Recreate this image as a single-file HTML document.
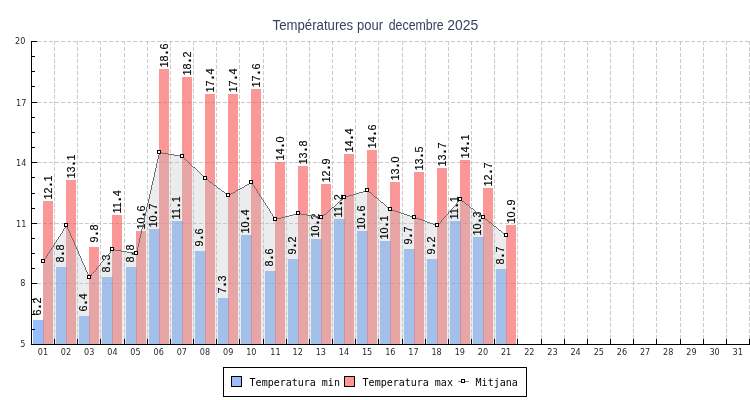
<!DOCTYPE html>
<html lang="fr"><head><meta charset="utf-8"><title>Températures pour decembre 2025</title>
<style>html,body{margin:0;padding:0;background:#fff}body{width:750px;height:400px;overflow:hidden}svg{display:block}.t{font-family:"Liberation Sans",sans-serif;font-size:14px;fill:#363f5f}.a{font-family:"DejaVu Sans Condensed","DejaVu Sans","Liberation Sans",sans-serif;font-size:9px;fill:#2a2a2a}.v{font-family:"Liberation Sans",sans-serif;font-size:11.4px;fill:#000;stroke:#000;stroke-width:0.12px}.l{font-family:"DejaVu Sans Mono","Liberation Mono",monospace;font-size:10px;fill:#000}</style></head><body>
<svg width="750" height="400" viewBox="0 0 750 400">
<rect width="750" height="400" fill="#fff"/>
<text class="t" y="30"><tspan x="272.6" textLength="80.6" lengthAdjust="spacingAndGlyphs">Températures</tspan> <tspan x="357" textLength="26" lengthAdjust="spacingAndGlyphs">pour</tspan> <tspan x="388.7" textLength="55" lengthAdjust="spacingAndGlyphs">decembre</tspan> <tspan x="447.2" textLength="31" lengthAdjust="spacingAndGlyphs">2025</tspan></text>
<g shape-rendering="crispEdges" stroke="#cacaca" stroke-width="1" stroke-dasharray="4 2" fill="none">
<line x1="31" y1="41.5" x2="750" y2="41.5"/>
<line x1="31" y1="102.5" x2="750" y2="102.5"/>
<line x1="31" y1="162.5" x2="750" y2="162.5"/>
<line x1="31" y1="223.5" x2="750" y2="223.5"/>
<line x1="31" y1="283.5" x2="750" y2="283.5"/>
<line x1="54.5" y1="41" x2="54.5" y2="344"/>
<line x1="77.5" y1="41" x2="77.5" y2="344"/>
<line x1="100.5" y1="41" x2="100.5" y2="344"/>
<line x1="124.5" y1="41" x2="124.5" y2="344"/>
<line x1="147.5" y1="41" x2="147.5" y2="344"/>
<line x1="170.5" y1="41" x2="170.5" y2="344"/>
<line x1="193.5" y1="41" x2="193.5" y2="344"/>
<line x1="216.5" y1="41" x2="216.5" y2="344"/>
<line x1="239.5" y1="41" x2="239.5" y2="344"/>
<line x1="263.5" y1="41" x2="263.5" y2="344"/>
<line x1="286.5" y1="41" x2="286.5" y2="344"/>
<line x1="309.5" y1="41" x2="309.5" y2="344"/>
<line x1="332.5" y1="41" x2="332.5" y2="344"/>
<line x1="355.5" y1="41" x2="355.5" y2="344"/>
<line x1="378.5" y1="41" x2="378.5" y2="344"/>
<line x1="402.5" y1="41" x2="402.5" y2="344"/>
<line x1="425.5" y1="41" x2="425.5" y2="344"/>
<line x1="448.5" y1="41" x2="448.5" y2="344"/>
<line x1="471.5" y1="41" x2="471.5" y2="344"/>
<line x1="494.5" y1="41" x2="494.5" y2="344"/>
<line x1="517.5" y1="41" x2="517.5" y2="344"/>
<line x1="541.5" y1="41" x2="541.5" y2="344"/>
<line x1="564.5" y1="41" x2="564.5" y2="344"/>
<line x1="587.5" y1="41" x2="587.5" y2="344"/>
<line x1="610.5" y1="41" x2="610.5" y2="344"/>
<line x1="633.5" y1="41" x2="633.5" y2="344"/>
<line x1="656.5" y1="41" x2="656.5" y2="344"/>
<line x1="680.5" y1="41" x2="680.5" y2="344"/>
<line x1="703.5" y1="41" x2="703.5" y2="344"/>
<line x1="726.5" y1="41" x2="726.5" y2="344"/>
<line x1="749.5" y1="41" x2="749.5" y2="344"/>
</g>
<g shape-rendering="crispEdges">
<rect x="33" y="320" width="11" height="24" fill="rgba(80,147,250,0.6)"/>
<rect x="56" y="267" width="11" height="77" fill="rgba(80,147,250,0.6)"/>
<rect x="79" y="316" width="11" height="28" fill="rgba(80,147,250,0.6)"/>
<rect x="102" y="277" width="11" height="67" fill="rgba(80,147,250,0.6)"/>
<rect x="126" y="267" width="11" height="77" fill="rgba(80,147,250,0.6)"/>
<rect x="149" y="229" width="11" height="115" fill="rgba(80,147,250,0.6)"/>
<rect x="172" y="221" width="11" height="123" fill="rgba(80,147,250,0.6)"/>
<rect x="195" y="251" width="11" height="93" fill="rgba(80,147,250,0.6)"/>
<rect x="218" y="298" width="11" height="46" fill="rgba(80,147,250,0.6)"/>
<rect x="241" y="235" width="11" height="109" fill="rgba(80,147,250,0.6)"/>
<rect x="265" y="271" width="11" height="73" fill="rgba(80,147,250,0.6)"/>
<rect x="288" y="259" width="11" height="85" fill="rgba(80,147,250,0.6)"/>
<rect x="311" y="239" width="11" height="105" fill="rgba(80,147,250,0.6)"/>
<rect x="334" y="219" width="11" height="125" fill="rgba(80,147,250,0.6)"/>
<rect x="357" y="231" width="11" height="113" fill="rgba(80,147,250,0.6)"/>
<rect x="380" y="241" width="11" height="103" fill="rgba(80,147,250,0.6)"/>
<rect x="404" y="249" width="11" height="95" fill="rgba(80,147,250,0.6)"/>
<rect x="427" y="259" width="11" height="85" fill="rgba(80,147,250,0.6)"/>
<rect x="450" y="221" width="11" height="123" fill="rgba(80,147,250,0.6)"/>
<rect x="473" y="237" width="11" height="107" fill="rgba(80,147,250,0.6)"/>
<rect x="496" y="269" width="11" height="75" fill="rgba(80,147,250,0.6)"/>
<rect x="43" y="201" width="10" height="143" fill="rgba(249,81,81,0.6)"/>
<rect x="66" y="180" width="10" height="164" fill="rgba(249,81,81,0.6)"/>
<rect x="89" y="247" width="10" height="97" fill="rgba(249,81,81,0.6)"/>
<rect x="112" y="215" width="10" height="129" fill="rgba(249,81,81,0.6)"/>
<rect x="136" y="231" width="10" height="113" fill="rgba(249,81,81,0.6)"/>
<rect x="159" y="69" width="10" height="275" fill="rgba(249,81,81,0.6)"/>
<rect x="182" y="77" width="10" height="267" fill="rgba(249,81,81,0.6)"/>
<rect x="205" y="94" width="10" height="250" fill="rgba(249,81,81,0.6)"/>
<rect x="228" y="94" width="10" height="250" fill="rgba(249,81,81,0.6)"/>
<rect x="251" y="89" width="10" height="255" fill="rgba(249,81,81,0.6)"/>
<rect x="275" y="162" width="10" height="182" fill="rgba(249,81,81,0.6)"/>
<rect x="298" y="166" width="10" height="178" fill="rgba(249,81,81,0.6)"/>
<rect x="321" y="184" width="10" height="160" fill="rgba(249,81,81,0.6)"/>
<rect x="344" y="154" width="10" height="190" fill="rgba(249,81,81,0.6)"/>
<rect x="367" y="150" width="10" height="194" fill="rgba(249,81,81,0.6)"/>
<rect x="390" y="182" width="10" height="162" fill="rgba(249,81,81,0.6)"/>
<rect x="414" y="172" width="10" height="172" fill="rgba(249,81,81,0.6)"/>
<rect x="437" y="168" width="10" height="176" fill="rgba(249,81,81,0.6)"/>
<rect x="460" y="160" width="10" height="184" fill="rgba(249,81,81,0.6)"/>
<rect x="483" y="188" width="10" height="156" fill="rgba(249,81,81,0.6)"/>
<rect x="506" y="225" width="10" height="119" fill="rgba(249,81,81,0.6)"/>
</g>
<path shape-rendering="crispEdges" fill="rgba(193,195,199,0.32)" d="M43 344V261h1V259h1V258h1V256h1V254h1V253h1V251h1V250h1V248h1V247h1V245h1V243h1V242h1V240h1V239h1V237h1V236h1V234h1V233h1V231h1V229h1V228h1V226h1V225h1V227h1V229h1V231h1V233h1V236h1V238h1V240h1V242h1V245h1V247h1V249h1V251h1V254h1V256h1V258h1V261h1V263h1V265h1V267h1V270h1V272h1V274h1V276h2V274h1V273h1V272h1V271h1V270h1V268h1V267h1V266h1V265h1V263h1V262h1V261h1V260h1V259h1V257h1V256h1V255h1V254h1V253h1V251h1V250h1V249h3V250h6V251h6V252h6V253h3V251h1V247h1V243h1V238h1V234h1V229h1V225h1V221h1V216h1V212h1V207h1V203h1V199h1V194h1V190h1V185h1V181h1V177h1V172h1V168h1V163h1V159h1V155h1V152h3V153h6V154h6V155h6V156h3V157h1V158h1V159h1V160h1V161h1V162h1V163h1V164h1V165h1V166h1V167h2V168h1V169h1V170h1V171h1V172h1V173h1V174h1V175h1V176h1V177h1V178h1V179h2V180h1V181h1V182h2V183h1V184h1V185h2V186h1V187h1V188h2V189h1V190h1V191h2V192h1V193h1V194h2V195h1V194h2V193h2V192h2V191h1V190h2V189h2V188h2V187h2V186h1V185h2V184h2V183h2V182h1V183h1V185h1V186h1V188h1V189h1V191h1V193h1V194h1V196h1V197h1V199h1V200h1V202h1V203h1V205h1V206h1V208h1V209h1V211h1V213h1V214h1V216h1V217h1V219h2V218h4V217h4V216h4V215h4V214h4V213h4V214h6V215h6V216h6V217h3V216h1V215h1V214h2V213h1V212h1V211h1V210h1V209h1V208h1V207h2V206h1V205h1V204h1V203h1V202h1V201h1V200h2V199h1V198h1V197h2V196h3V195h4V194h3V193h3V192h4V191h3V190h2V191h1V192h2V193h1V194h1V195h1V196h1V197h2V198h1V199h1V200h1V201h1V202h2V203h1V204h1V205h1V206h1V207h2V208h1V209h2V210h3V211h3V212h3V213h3V214h3V215h3V216h3V217h3V218h3V219h3V220h3V221h2V222h3V223h3V224h3V225h2V224h1V223h1V222h1V220h1V219h1V218h1V217h1V216h1V215h1V214h1V212h1V211h1V210h1V209h1V208h1V207h1V206h1V205h1V203h1V202h1V201h1V200h1V199h1V200h1V201h2V202h1V203h1V204h2V205h1V206h1V207h1V208h2V209h1V210h1V211h1V212h2V213h1V214h1V215h2V216h1V217h1V218h1V219h2V220h1V221h1V222h2V223h1V224h1V225h1V226h2V227h1V228h1V229h1V230h2V231h1V232h1V233h2V234h1V235h1V344Z"/>
<text class="v" transform="translate(41.0 306.5) rotate(-90) scale(0.947 1)" x="-9.51">6<tspan dx="1.08" font-weight="bold" font-size="15">.</tspan><tspan dx="1.08">2</tspan></text>
<text class="v" transform="translate(52.0 187.5) rotate(-90) scale(0.947 1)" x="-12.68">12<tspan dx="1.08" font-weight="bold" font-size="15">.</tspan><tspan dx="1.08">1</tspan></text>
<text class="v" transform="translate(64.0 253.5) rotate(-90) scale(0.947 1)" x="-9.51">8<tspan dx="1.08" font-weight="bold" font-size="15">.</tspan><tspan dx="1.08">8</tspan></text>
<text class="v" transform="translate(75.0 166.5) rotate(-90) scale(0.947 1)" x="-12.68">13<tspan dx="1.08" font-weight="bold" font-size="15">.</tspan><tspan dx="1.08">1</tspan></text>
<text class="v" transform="translate(87.0 302.5) rotate(-90) scale(0.947 1)" x="-9.51">6<tspan dx="1.08" font-weight="bold" font-size="15">.</tspan><tspan dx="1.08">4</tspan></text>
<text class="v" transform="translate(98.0 233.5) rotate(-90) scale(0.947 1)" x="-9.51">9<tspan dx="1.08" font-weight="bold" font-size="15">.</tspan><tspan dx="1.08">8</tspan></text>
<text class="v" transform="translate(110.0 263.5) rotate(-90) scale(0.947 1)" x="-9.51">8<tspan dx="1.08" font-weight="bold" font-size="15">.</tspan><tspan dx="1.08">3</tspan></text>
<text class="v" transform="translate(121.0 201.5) rotate(-90) scale(0.947 1)" x="-12.68">11<tspan dx="1.08" font-weight="bold" font-size="15">.</tspan><tspan dx="1.08">4</tspan></text>
<text class="v" transform="translate(134.0 253.5) rotate(-90) scale(0.947 1)" x="-9.51">8<tspan dx="1.08" font-weight="bold" font-size="15">.</tspan><tspan dx="1.08">8</tspan></text>
<text class="v" transform="translate(145.0 217.5) rotate(-90) scale(0.947 1)" x="-12.68">10<tspan dx="1.08" font-weight="bold" font-size="15">.</tspan><tspan dx="1.08">6</tspan></text>
<text class="v" transform="translate(157.0 215.5) rotate(-90) scale(0.947 1)" x="-12.68">10<tspan dx="1.08" font-weight="bold" font-size="15">.</tspan><tspan dx="1.08">7</tspan></text>
<text class="v" transform="translate(168.0 55.5) rotate(-90) scale(0.947 1)" x="-12.68">18<tspan dx="1.08" font-weight="bold" font-size="15">.</tspan><tspan dx="1.08">6</tspan></text>
<text class="v" transform="translate(180.0 207.5) rotate(-90) scale(0.947 1)" x="-12.68">11<tspan dx="1.08" font-weight="bold" font-size="15">.</tspan><tspan dx="1.08">1</tspan></text>
<text class="v" transform="translate(191.0 63.5) rotate(-90) scale(0.947 1)" x="-12.68">18<tspan dx="1.08" font-weight="bold" font-size="15">.</tspan><tspan dx="1.08">2</tspan></text>
<text class="v" transform="translate(203.0 237.5) rotate(-90) scale(0.947 1)" x="-9.51">9<tspan dx="1.08" font-weight="bold" font-size="15">.</tspan><tspan dx="1.08">6</tspan></text>
<text class="v" transform="translate(214.0 80.5) rotate(-90) scale(0.947 1)" x="-12.68">17<tspan dx="1.08" font-weight="bold" font-size="15">.</tspan><tspan dx="1.08">4</tspan></text>
<text class="v" transform="translate(226.0 284.5) rotate(-90) scale(0.947 1)" x="-9.51">7<tspan dx="1.08" font-weight="bold" font-size="15">.</tspan><tspan dx="1.08">3</tspan></text>
<text class="v" transform="translate(237.0 80.5) rotate(-90) scale(0.947 1)" x="-12.68">17<tspan dx="1.08" font-weight="bold" font-size="15">.</tspan><tspan dx="1.08">4</tspan></text>
<text class="v" transform="translate(249.0 221.5) rotate(-90) scale(0.947 1)" x="-12.68">10<tspan dx="1.08" font-weight="bold" font-size="15">.</tspan><tspan dx="1.08">4</tspan></text>
<text class="v" transform="translate(260.0 75.5) rotate(-90) scale(0.947 1)" x="-12.68">17<tspan dx="1.08" font-weight="bold" font-size="15">.</tspan><tspan dx="1.08">6</tspan></text>
<text class="v" transform="translate(273.0 257.5) rotate(-90) scale(0.947 1)" x="-9.51">8<tspan dx="1.08" font-weight="bold" font-size="15">.</tspan><tspan dx="1.08">6</tspan></text>
<text class="v" transform="translate(284.0 148.5) rotate(-90) scale(0.947 1)" x="-12.68">14<tspan dx="1.08" font-weight="bold" font-size="15">.</tspan><tspan dx="1.08">0</tspan></text>
<text class="v" transform="translate(296.0 245.5) rotate(-90) scale(0.947 1)" x="-9.51">9<tspan dx="1.08" font-weight="bold" font-size="15">.</tspan><tspan dx="1.08">2</tspan></text>
<text class="v" transform="translate(307.0 152.5) rotate(-90) scale(0.947 1)" x="-12.68">13<tspan dx="1.08" font-weight="bold" font-size="15">.</tspan><tspan dx="1.08">8</tspan></text>
<text class="v" transform="translate(319.0 225.5) rotate(-90) scale(0.947 1)" x="-12.68">10<tspan dx="1.08" font-weight="bold" font-size="15">.</tspan><tspan dx="1.08">2</tspan></text>
<text class="v" transform="translate(330.0 170.5) rotate(-90) scale(0.947 1)" x="-12.68">12<tspan dx="1.08" font-weight="bold" font-size="15">.</tspan><tspan dx="1.08">9</tspan></text>
<text class="v" transform="translate(342.0 205.5) rotate(-90) scale(0.947 1)" x="-12.68">11<tspan dx="1.08" font-weight="bold" font-size="15">.</tspan><tspan dx="1.08">2</tspan></text>
<text class="v" transform="translate(353.0 140.5) rotate(-90) scale(0.947 1)" x="-12.68">14<tspan dx="1.08" font-weight="bold" font-size="15">.</tspan><tspan dx="1.08">4</tspan></text>
<text class="v" transform="translate(365.0 217.5) rotate(-90) scale(0.947 1)" x="-12.68">10<tspan dx="1.08" font-weight="bold" font-size="15">.</tspan><tspan dx="1.08">6</tspan></text>
<text class="v" transform="translate(376.0 136.5) rotate(-90) scale(0.947 1)" x="-12.68">14<tspan dx="1.08" font-weight="bold" font-size="15">.</tspan><tspan dx="1.08">6</tspan></text>
<text class="v" transform="translate(388.0 227.5) rotate(-90) scale(0.947 1)" x="-12.68">10<tspan dx="1.08" font-weight="bold" font-size="15">.</tspan><tspan dx="1.08">1</tspan></text>
<text class="v" transform="translate(399.0 168.5) rotate(-90) scale(0.947 1)" x="-12.68">13<tspan dx="1.08" font-weight="bold" font-size="15">.</tspan><tspan dx="1.08">0</tspan></text>
<text class="v" transform="translate(412.0 235.5) rotate(-90) scale(0.947 1)" x="-9.51">9<tspan dx="1.08" font-weight="bold" font-size="15">.</tspan><tspan dx="1.08">7</tspan></text>
<text class="v" transform="translate(423.0 158.5) rotate(-90) scale(0.947 1)" x="-12.68">13<tspan dx="1.08" font-weight="bold" font-size="15">.</tspan><tspan dx="1.08">5</tspan></text>
<text class="v" transform="translate(435.0 245.5) rotate(-90) scale(0.947 1)" x="-9.51">9<tspan dx="1.08" font-weight="bold" font-size="15">.</tspan><tspan dx="1.08">2</tspan></text>
<text class="v" transform="translate(446.0 154.5) rotate(-90) scale(0.947 1)" x="-12.68">13<tspan dx="1.08" font-weight="bold" font-size="15">.</tspan><tspan dx="1.08">7</tspan></text>
<text class="v" transform="translate(458.0 207.5) rotate(-90) scale(0.947 1)" x="-12.68">11<tspan dx="1.08" font-weight="bold" font-size="15">.</tspan><tspan dx="1.08">1</tspan></text>
<text class="v" transform="translate(469.0 146.5) rotate(-90) scale(0.947 1)" x="-12.68">14<tspan dx="1.08" font-weight="bold" font-size="15">.</tspan><tspan dx="1.08">1</tspan></text>
<text class="v" transform="translate(481.0 223.5) rotate(-90) scale(0.947 1)" x="-12.68">10<tspan dx="1.08" font-weight="bold" font-size="15">.</tspan><tspan dx="1.08">3</tspan></text>
<text class="v" transform="translate(492.0 174.5) rotate(-90) scale(0.947 1)" x="-12.68">12<tspan dx="1.08" font-weight="bold" font-size="15">.</tspan><tspan dx="1.08">7</tspan></text>
<text class="v" transform="translate(504.0 255.5) rotate(-90) scale(0.947 1)" x="-9.51">8<tspan dx="1.08" font-weight="bold" font-size="15">.</tspan><tspan dx="1.08">7</tspan></text>
<text class="v" transform="translate(515.0 211.5) rotate(-90) scale(0.947 1)" x="-12.68">10<tspan dx="1.08" font-weight="bold" font-size="15">.</tspan><tspan dx="1.08">9</tspan></text>
<path shape-rendering="crispEdges" fill="none" stroke="#6e6e6e" stroke-width="1" transform="translate(0.5 0)" d="M43 261v1M44 259v2M45 258v1M46 256v2M47 254v2M48 253v1M49 251v2M50 250v1M51 248v2M52 247v1M53 245v2M54 243v2M55 242v1M56 240v2M57 239v1M58 237v2M59 236v1M60 234v2M61 233v1M62 231v2M63 229v2M64 228v1M65 226v2M66 225v2M67 227v2M68 229v2M69 231v2M70 233v3M71 236v2M72 238v2M73 240v2M74 242v3M75 245v2M76 247v2M77 249v2M78 251v3M79 254v2M80 256v2M81 258v3M82 261v2M83 263v2M84 265v2M85 267v3M86 270v2M87 272v2M88 274v2M89 276v2M90 276v1M91 274v2M92 273v1M93 272v1M94 271v1M95 270v1M96 268v2M97 267v1M98 266v1M99 265v1M100 263v2M101 262v1M102 261v1M103 260v1M104 259v1M105 257v2M106 256v1M107 255v1M108 254v1M109 253v1M110 251v2M111 250v1M112 249v1M113 249v1M114 249v1M115 250v1M116 250v1M117 250v1M118 250v1M119 250v1M120 250v1M121 251v1M122 251v1M123 251v1M124 251v1M125 251v1M126 251v1M127 252v1M128 252v1M129 252v1M130 252v1M131 252v1M132 252v1M133 253v1M134 253v1M135 253v1M136 251v3M137 247v4M138 243v4M139 238v5M140 234v4M141 229v5M142 225v4M143 221v4M144 216v5M145 212v4M146 207v5M147 203v4M148 199v4M149 194v5M150 190v4M151 185v5M152 181v4M153 177v4M154 172v5M155 168v4M156 163v5M157 159v4M158 155v4M159 152v3M160 152v1M161 152v1M162 153v1M163 153v1M164 153v1M165 153v1M166 153v1M167 153v1M168 154v1M169 154v1M170 154v1M171 154v1M172 154v1M173 154v1M174 155v1M175 155v1M176 155v1M177 155v1M178 155v1M179 155v1M180 156v1M181 156v1M182 156v1M183 157v1M184 158v1M185 159v1M186 160v1M187 161v1M188 162v1M189 163v1M190 164v1M191 165v1M192 166v1M193 167v1M194 167v1M195 168v1M196 169v1M197 170v1M198 171v1M199 172v1M200 173v1M201 174v1M202 175v1M203 176v1M204 177v1M205 178v1M206 179v1M207 179v1M208 180v1M209 181v1M210 182v1M211 182v1M212 183v1M213 184v1M214 185v1M215 185v1M216 186v1M217 187v1M218 188v1M219 188v1M220 189v1M221 190v1M222 191v1M223 191v1M224 192v1M225 193v1M226 194v1M227 194v1M228 195v1M229 194v1M230 194v1M231 193v1M232 193v1M233 192v1M234 192v1M235 191v1M236 190v1M237 190v1M238 189v1M239 189v1M240 188v1M241 188v1M242 187v1M243 187v1M244 186v1M245 185v1M246 185v1M247 184v1M248 184v1M249 183v1M250 183v1M251 182v1M252 183v2M253 185v1M254 186v2M255 188v1M256 189v2M257 191v2M258 193v1M259 194v2M260 196v1M261 197v2M262 199v1M263 200v2M264 202v1M265 203v2M266 205v1M267 206v2M268 208v1M269 209v2M270 211v2M271 213v1M272 214v2M273 216v1M274 217v2M275 219v1M276 219v1M277 218v1M278 218v1M279 218v1M280 218v1M281 217v1M282 217v1M283 217v1M284 217v1M285 216v1M286 216v1M287 216v1M288 216v1M289 215v1M290 215v1M291 215v1M292 215v1M293 214v1M294 214v1M295 214v1M296 214v1M297 213v1M298 213v1M299 213v1M300 213v1M301 214v1M302 214v1M303 214v1M304 214v1M305 214v1M306 214v1M307 215v1M308 215v1M309 215v1M310 215v1M311 215v1M312 215v1M313 216v1M314 216v1M315 216v1M316 216v1M317 216v1M318 216v1M319 217v1M320 217v1M321 217v1M322 216v1M323 215v1M324 214v1M325 214v1M326 213v1M327 212v1M328 211v1M329 210v1M330 209v1M331 208v1M332 207v1M333 207v1M334 206v1M335 205v1M336 204v1M337 203v1M338 202v1M339 201v1M340 200v1M341 200v1M342 199v1M343 198v1M344 197v1M345 197v1M346 196v1M347 196v1M348 196v1M349 195v1M350 195v1M351 195v1M352 195v1M353 194v1M354 194v1M355 194v1M356 193v1M357 193v1M358 193v1M359 192v1M360 192v1M361 192v1M362 192v1M363 191v1M364 191v1M365 191v1M366 190v1M367 190v1M368 191v1M369 192v1M370 192v1M371 193v1M372 194v1M373 195v1M374 196v1M375 197v1M376 197v1M377 198v1M378 199v1M379 200v1M380 201v1M381 202v1M382 202v1M383 203v1M384 204v1M385 205v1M386 206v1M387 207v1M388 207v1M389 208v1M390 209v1M391 209v1M392 210v1M393 210v1M394 210v1M395 211v1M396 211v1M397 211v1M398 212v1M399 212v1M400 212v1M401 213v1M402 213v1M403 213v1M404 214v1M405 214v1M406 214v1M407 215v1M408 215v1M409 215v1M410 216v1M411 216v1M412 216v1M413 217v1M414 217v1M415 217v1M416 218v1M417 218v1M418 218v1M419 219v1M420 219v1M421 219v1M422 220v1M423 220v1M424 220v1M425 221v1M426 221v1M427 222v1M428 222v1M429 222v1M430 223v1M431 223v1M432 223v1M433 224v1M434 224v1M435 224v1M436 225v1M437 225v1M438 224v1M439 223v1M440 222v1M441 220v2M442 219v1M443 218v1M444 217v1M445 216v1M446 215v1M447 214v1M448 212v2M449 211v1M450 210v1M451 209v1M452 208v1M453 207v1M454 206v1M455 205v1M456 203v2M457 202v1M458 201v1M459 200v1M460 199v1M461 200v1M462 201v1M463 201v1M464 202v1M465 203v1M466 204v1M467 204v1M468 205v1M469 206v1M470 207v1M471 208v1M472 208v1M473 209v1M474 210v1M475 211v1M476 212v1M477 212v1M478 213v1M479 214v1M480 215v1M481 215v1M482 216v1M483 217v1M484 218v1M485 219v1M486 219v1M487 220v1M488 221v1M489 222v1M490 222v1M491 223v1M492 224v1M493 225v1M494 226v1M495 226v1M496 227v1M497 228v1M498 229v1M499 230v1M500 230v1M501 231v1M502 232v1M503 233v1M504 233v1M505 234v1M506 235v1"/>
<g shape-rendering="crispEdges" fill="#fff" stroke="#000" stroke-width="1">
<rect x="41.5" y="259.5" width="3" height="3"/>
<rect x="64.5" y="223.5" width="3" height="3"/>
<rect x="87.5" y="275.5" width="3" height="3"/>
<rect x="110.5" y="247.5" width="3" height="3"/>
<rect x="134.5" y="251.5" width="3" height="3"/>
<rect x="157.5" y="150.5" width="3" height="3"/>
<rect x="180.5" y="154.5" width="3" height="3"/>
<rect x="203.5" y="176.5" width="3" height="3"/>
<rect x="226.5" y="193.5" width="3" height="3"/>
<rect x="249.5" y="180.5" width="3" height="3"/>
<rect x="273.5" y="217.5" width="3" height="3"/>
<rect x="296.5" y="211.5" width="3" height="3"/>
<rect x="319.5" y="215.5" width="3" height="3"/>
<rect x="342.5" y="195.5" width="3" height="3"/>
<rect x="365.5" y="188.5" width="3" height="3"/>
<rect x="388.5" y="207.5" width="3" height="3"/>
<rect x="412.5" y="215.5" width="3" height="3"/>
<rect x="435.5" y="223.5" width="3" height="3"/>
<rect x="458.5" y="197.5" width="3" height="3"/>
<rect x="481.5" y="215.5" width="3" height="3"/>
<rect x="504.5" y="233.5" width="3" height="3"/>
</g>
<g shape-rendering="crispEdges" fill="#000">
<rect x="31" y="41" width="1" height="304"/>
<rect x="31" y="344" width="719" height="1"/>
<rect x="32" y="41" width="5" height="1"/>
<rect x="32" y="56" width="3" height="1"/>
<rect x="32" y="71" width="3" height="1"/>
<rect x="32" y="86" width="3" height="1"/>
<rect x="32" y="102" width="5" height="1"/>
<rect x="32" y="117" width="3" height="1"/>
<rect x="32" y="132" width="3" height="1"/>
<rect x="32" y="147" width="3" height="1"/>
<rect x="32" y="162" width="5" height="1"/>
<rect x="32" y="177" width="3" height="1"/>
<rect x="32" y="193" width="3" height="1"/>
<rect x="32" y="208" width="3" height="1"/>
<rect x="32" y="223" width="5" height="1"/>
<rect x="32" y="238" width="3" height="1"/>
<rect x="32" y="253" width="3" height="1"/>
<rect x="32" y="268" width="3" height="1"/>
<rect x="32" y="283" width="5" height="1"/>
<rect x="32" y="299" width="3" height="1"/>
<rect x="32" y="314" width="3" height="1"/>
<rect x="32" y="329" width="3" height="1"/>
<rect x="32" y="344" width="5" height="1"/>
<rect x="54" y="339" width="1" height="5"/>
<rect x="77" y="339" width="1" height="5"/>
<rect x="100" y="339" width="1" height="5"/>
<rect x="124" y="339" width="1" height="5"/>
<rect x="147" y="339" width="1" height="5"/>
<rect x="170" y="339" width="1" height="5"/>
<rect x="193" y="339" width="1" height="5"/>
<rect x="216" y="339" width="1" height="5"/>
<rect x="239" y="339" width="1" height="5"/>
<rect x="263" y="339" width="1" height="5"/>
<rect x="286" y="339" width="1" height="5"/>
<rect x="309" y="339" width="1" height="5"/>
<rect x="332" y="339" width="1" height="5"/>
<rect x="355" y="339" width="1" height="5"/>
<rect x="378" y="339" width="1" height="5"/>
<rect x="402" y="339" width="1" height="5"/>
<rect x="425" y="339" width="1" height="5"/>
<rect x="448" y="339" width="1" height="5"/>
<rect x="471" y="339" width="1" height="5"/>
<rect x="494" y="339" width="1" height="5"/>
<rect x="517" y="339" width="1" height="5"/>
<rect x="541" y="339" width="1" height="5"/>
<rect x="564" y="339" width="1" height="5"/>
<rect x="587" y="339" width="1" height="5"/>
<rect x="610" y="339" width="1" height="5"/>
<rect x="633" y="339" width="1" height="5"/>
<rect x="656" y="339" width="1" height="5"/>
<rect x="680" y="339" width="1" height="5"/>
<rect x="703" y="339" width="1" height="5"/>
<rect x="726" y="339" width="1" height="5"/>
<rect x="749" y="339" width="1" height="5"/>
</g>
<text class="a" x="25.3" y="44" text-anchor="end">20</text>
<text class="a" x="26.3" y="106" text-anchor="end">17</text>
<text class="a" x="26.3" y="166" text-anchor="end">14</text>
<text class="a" x="26.3" y="227" text-anchor="end">11</text>
<text class="a" x="25.3" y="286" text-anchor="end">8</text>
<text class="a" x="25.3" y="347" text-anchor="end">5</text>
<text class="a" x="42.9" y="355" text-anchor="middle">01</text>
<text class="a" x="66.0" y="355" text-anchor="middle">02</text>
<text class="a" x="89.2" y="355" text-anchor="middle">03</text>
<text class="a" x="112.4" y="355" text-anchor="middle">04</text>
<text class="a" x="135.5" y="355" text-anchor="middle">05</text>
<text class="a" x="158.7" y="355" text-anchor="middle">06</text>
<text class="a" x="181.8" y="355" text-anchor="middle">07</text>
<text class="a" x="205.0" y="355" text-anchor="middle">08</text>
<text class="a" x="228.2" y="355" text-anchor="middle">09</text>
<text class="a" x="251.3" y="355" text-anchor="middle">10</text>
<text class="a" x="275.5" y="355" text-anchor="middle">11</text>
<text class="a" x="297.7" y="355" text-anchor="middle">12</text>
<text class="a" x="320.8" y="355" text-anchor="middle">13</text>
<text class="a" x="344.0" y="355" text-anchor="middle">14</text>
<text class="a" x="367.1" y="355" text-anchor="middle">15</text>
<text class="a" x="390.3" y="355" text-anchor="middle">16</text>
<text class="a" x="413.5" y="355" text-anchor="middle">17</text>
<text class="a" x="436.6" y="355" text-anchor="middle">18</text>
<text class="a" x="459.8" y="355" text-anchor="middle">19</text>
<text class="a" x="482.9" y="355" text-anchor="middle">20</text>
<text class="a" x="506.1" y="355" text-anchor="middle">21</text>
<text class="a" x="529.3" y="355" text-anchor="middle">22</text>
<text class="a" x="552.4" y="355" text-anchor="middle">23</text>
<text class="a" x="575.6" y="355" text-anchor="middle">24</text>
<text class="a" x="598.8" y="355" text-anchor="middle">25</text>
<text class="a" x="621.9" y="355" text-anchor="middle">26</text>
<text class="a" x="645.1" y="355" text-anchor="middle">27</text>
<text class="a" x="668.2" y="355" text-anchor="middle">28</text>
<text class="a" x="691.4" y="355" text-anchor="middle">29</text>
<text class="a" x="714.6" y="355" text-anchor="middle">30</text>
<text class="a" x="737.7" y="355" text-anchor="middle">31</text>
<g shape-rendering="crispEdges">
<rect x="223.5" y="367.5" width="303" height="29" fill="#fff" stroke="#000"/>
<rect x="231.5" y="376.5" width="10" height="10" fill="#97befc" stroke="#000"/>
<rect x="344.5" y="376.5" width="10" height="10" fill="#fb9797" stroke="#000"/>
<rect x="458" y="381" width="11" height="1" fill="#8a8a8a"/>
<rect x="461.5" y="379.5" width="3" height="3" fill="#fff" stroke="#000"/>
</g>
<text class="l" x="249.6" y="386">Temperatura min</text>
<text class="l" x="362.6" y="386">Temperatura max</text>
<text class="l" x="475.6" y="386">Mitjana</text>
</svg></body></html>
